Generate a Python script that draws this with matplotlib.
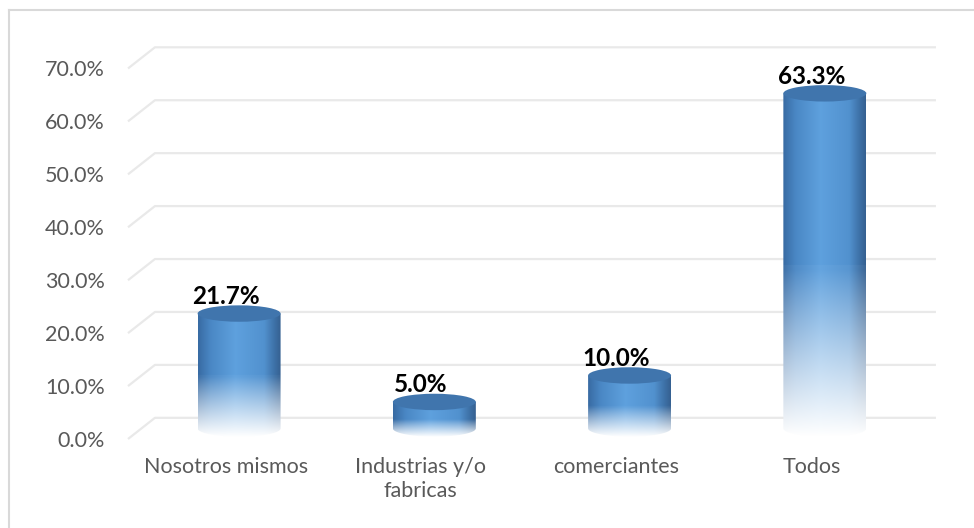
import numpy as np
import matplotlib

matplotlib.use("Agg")
import matplotlib.pyplot as plt
from matplotlib.lines import Line2D
from matplotlib.patches import Ellipse, PathPatch
from matplotlib.path import Path
from matplotlib.ticker import PercentFormatter

categories = ["Nosotros mismos", "Industrias y/o\nfabricas", "comerciantes", "Todos"]
values = [0.217, 0.05, 0.10, 0.633]
y_ticks = [0.0, 0.1, 0.2, 0.3, 0.4, 0.5, 0.6, 0.7]

W, H = 974, 528
DX = 0.138   # depth shift of the back wall, in category units
DY = 0.040   # depth shift of the back wall, in value units
BAR_W = 0.425
ELL_H = 0.031

plt.rcParams["font.family"] = ["Lato", "DejaVu Sans"]

fig = plt.figure(figsize=(W / 100, H / 100), dpi=100)
fig.patch.set_facecolor("white")
ax = fig.add_axes([128 / W, 89 / H, 781 / W, 397 / H])
ax.set_xlim(-0.5, len(categories) - 0.5)
ax.set_ylim(0, 0.75)
for s in ax.spines.values():
    s.set_visible(False)

# outer frame (only top and left visible in the crop)
fig.add_artist(Line2D([9 / W, 1], [1 - 10 / H] * 2, transform=fig.transFigure, color="#d9d9d9", lw=1.5))
fig.add_artist(Line2D([9 / W] * 2, [1 - 10 / H, 0], transform=fig.transFigure, color="#d9d9d9", lw=1.5))

# gridlines with the slanted floor/side wall piece
x0, x1 = -0.5, len(categories) - 0.5
for v in y_ticks:
    ax.plot([x0, x0 + DX, x1 + DX], [v, v + DY, v + DY], color="#e9e9e9", lw=1.6,
            solid_capstyle="butt", zorder=1, clip_on=False)

ax.set_yticks(y_ticks)
ax.yaxis.set_major_formatter(PercentFormatter(1, decimals=1))
ax.set_xticks(range(len(categories)))
ax.set_xticklabels(categories, linespacing=1.25)
ax.tick_params(axis="y", length=0, pad=16.5, labelsize=15.5, labelcolor="#595959")
ax.tick_params(axis="x", length=0, pad=13, labelsize=15.5, labelcolor="#595959")

# horizontal shading across the cylinder
stops_t = [0.0, 0.15, 0.45, 0.8, 0.93, 1.0]
stops_c = np.array([
    [0.22, 0.42, 0.64],
    [0.29, 0.53, 0.77],
    [0.37, 0.63, 0.87],
    [0.32, 0.57, 0.81],
    [0.24, 0.44, 0.65],
    [0.21, 0.38, 0.57],
])
cols = 120
tt = np.linspace(0, 1, cols)
row_col = np.stack([np.interp(tt, stops_t, stops_c[:, k]) for k in range(3)], axis=1)

for i, v in enumerate(values):
    xc = i + DX / 2
    hw = BAR_W / 2
    yb = DY / 2
    yt = v + DY / 2
    ybot = yb - ELL_H / 2

    ang = np.linspace(np.pi, 2 * np.pi, 60)
    px = np.concatenate([[xc - hw, xc - hw], xc + hw * np.cos(ang), [xc + hw, xc - hw]])
    py = np.concatenate([[yt, yb], yb + ELL_H / 2 * np.sin(ang), [yt, yt]])
    body = PathPatch(Path(np.column_stack([px, py])), facecolor="none", edgecolor="none")
    ax.add_patch(body)

    rows = 300
    s = np.linspace(0, 1, rows)[:, None]
    f = np.clip((s - 0.5) / 0.5, 0, 1) ** 0.9
    f = np.where(s > 0.5, np.maximum(f, 0.04), 0)
    img = row_col[None, :, :] * (1 - f[..., None]) + 1.0 * f[..., None]
    im = ax.imshow(img, extent=(xc - hw, xc + hw, ybot, yt), aspect="auto",
                   interpolation="bilinear", zorder=2)
    im.set_clip_path(body)

    ax.add_patch(Ellipse((xc, yt), BAR_W, ELL_H, facecolor="#4075ad", edgecolor="none", zorder=3))
    ax.text(i, yt + ELL_H / 2 + 0.003, f"{v:.1%}", ha="center", va="baseline",
            fontsize=17.5, fontweight="bold", color="black", zorder=4)

ax.set_xlim(-0.5, len(categories) - 0.5)
ax.set_ylim(0, 0.75)
ax.set_aspect("auto")

fig.savefig("out.png", dpi=100)
